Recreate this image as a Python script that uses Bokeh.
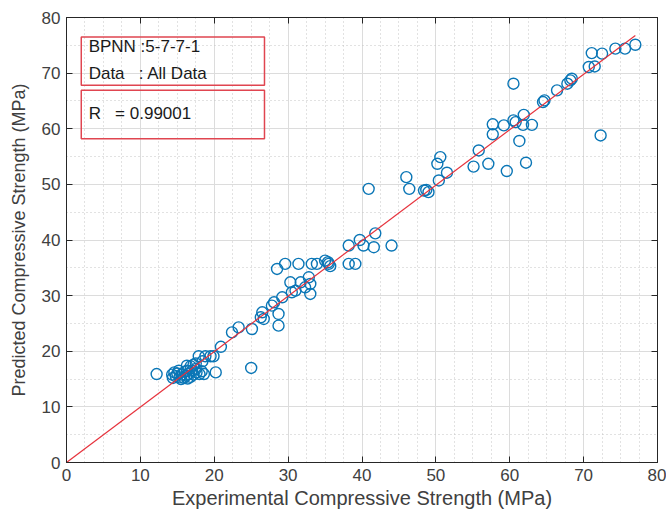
from bokeh.plotting import figure
from bokeh.models import LinearAxis, FixedTicker, BoxAnnotation, Label
from bokeh.embed import file_html
from bokeh.resources import INLINE

# ---- data ----
actual = [
    12.2, 14.3, 14.4, 14.6, 14.8, 15.0, 15.3, 15.5, 15.6, 15.9, 16.0, 16.2, 16.4, 16.5,
    16.8, 17.0, 17.2, 17.6, 18.0, 18.3, 15.2, 16.3, 16.8, 17.5, 18.6, 20.2, 25.0,
    17.9, 18.8, 19.5, 19.9, 18.4, 17.5, 16.3, 17.2, 20.9,
    22.4, 23.3, 25.1, 26.3, 26.5, 26.7, 27.8, 28.1, 28.7, 28.7, 29.2, 30.5, 31.0,
    30.3, 31.7, 32.3, 32.8, 33.0, 33.0,
    28.5, 29.6, 31.4, 33.2, 33.9, 35.0, 35.5, 35.7, 35.4, 38.2, 39.1,
    38.2, 39.7, 40.2, 41.6, 41.8, 44.0, 40.9,
    46.0, 46.4, 48.4, 48.7, 49.0, 50.2, 50.4, 50.6, 51.5,
    55.1, 55.8, 57.1, 59.6, 62.2, 61.3, 57.7, 57.7, 59.2, 60.5, 60.8, 61.9, 61.8, 63.0,
    64.5, 64.7, 66.4, 67.8, 68.4, 68.2, 70.7, 71.5, 71.1, 72.5, 74.3, 75.6, 77.0,
    60.5, 72.3,
]
predicted = [
    15.9, 15.8, 15.2, 16.2, 15.5, 16.0, 15.3, 15.0, 15.8, 15.2, 16.3, 15.6, 15.1, 15.9,
    15.4, 16.5, 15.8, 16.2, 15.9, 16.4, 16.5, 16.5, 17.3, 16.8, 15.9, 16.2, 17.0,
    19.1, 19.1, 19.1, 19.1, 18.2, 17.8, 17.4, 17.6, 20.8,
    23.4, 24.3, 24.0, 26.1, 27.0, 25.8, 28.2, 28.8, 26.7, 24.6, 29.7, 30.6, 30.9,
    32.4, 32.4, 31.5, 33.3, 32.1, 30.3,
    34.8, 35.7, 35.7, 35.7, 35.7, 36.3, 35.7, 35.3, 36.0, 35.7, 35.7,
    39.0, 40.0, 39.0, 38.7, 41.2, 39.0, 49.2,
    51.3, 49.2, 48.9, 49.0, 48.6, 53.7, 50.7, 54.9, 52.1,
    53.2, 56.1, 53.7, 52.4, 53.9, 57.8, 60.8, 59.0, 60.6, 61.5, 61.2, 62.5, 60.7, 60.7,
    64.8, 65.1, 66.9, 68.1, 69.0, 68.7, 71.1, 71.2, 73.6, 73.5, 74.4, 74.4, 75.1,
    68.1, 58.8,
]
fit_slope = 0.997
fit_intercept = 0.0
x_ticks = [0, 10, 20, 30, 40, 50, 60, 70, 80]
y_ticks = [0, 10, 20, 30, 40, 50, 60, 70, 80]
x_minor = [v * 2.5 for v in range(33)]
y_minor = [v * 5 for v in range(17)]
info_lines = ["BPNN :5-7-7-1", "Data\u00a0\u00a0\u00a0: All Data", "R\u00a0\u00a0\u00a0= 0.99001"]

fit_x = [0, max(actual)]
fit_y = [fit_intercept + fit_slope * v for v in fit_x]

FONT = "Liberation Sans"
TXT = "#404040"

p = figure(width=666, height=517, x_range=(0, 80), y_range=(0, 80),
           output_backend="svg", toolbar_location=None,
           min_border_left=66, min_border_right=9, min_border_top=17, min_border_bottom=55,
           background_fill_color="white", border_fill_color="white")
p.outline_line_color = "#262626"

xt = FixedTicker(ticks=x_ticks, minor_ticks=x_minor)
yt = FixedTicker(ticks=y_ticks, minor_ticks=y_minor)
p.xaxis.ticker = xt
p.yaxis.ticker = yt

for g in (p.xgrid, p.ygrid):
    g.grid_line_color = "#dcdcdc"
    g.grid_line_width = 1
    g.minor_grid_line_color = "#c4c4c4"
    g.minor_grid_line_dash = "1 3"
    g.minor_grid_line_width = 1
p.xgrid.ticker = xt
p.ygrid.ticker = yt

for ax in (p.xaxis[0], p.yaxis[0]):
    ax.major_tick_in = 6
    ax.major_tick_out = 0
    ax.minor_tick_in = 0
    ax.minor_tick_out = 0
    ax.axis_line_color = "#262626"
    ax.major_tick_line_color = "#262626"
    ax.major_label_text_font = FONT
    ax.major_label_text_font_size = "17px"
    ax.major_label_text_color = TXT
    ax.axis_label_text_font = FONT
    ax.axis_label_text_font_style = "normal"
    ax.axis_label_text_color = TXT

p.xaxis.axis_label = "Experimental Compressive Strength (MPa)"
p.xaxis.axis_label_text_font_size = "20px"
p.xaxis.major_label_standoff = 6
p.xaxis.axis_label_standoff = 3
p.yaxis.axis_label = "Predicted Compressive Strength (MPa)"
p.yaxis.axis_label_text_font_size = "18px"
p.yaxis.major_label_standoff = 6
p.yaxis.axis_label_standoff = 10

for loc, tk in (("above", xt), ("right", yt)):
    a = LinearAxis(ticker=tk, major_tick_in=6, major_tick_out=0, minor_tick_in=0,
                   minor_tick_out=0, major_label_text_font_size="0px",
                   major_label_text_color=None, major_label_standoff=0,
                   axis_line_color="#262626", major_tick_line_color="#262626")
    p.add_layout(a, loc)

p.scatter(actual, predicted, marker="circle", size=11, fill_color=None,
          line_color="#0a76b6", line_width=1.4)
p.line(fit_x, fit_y, line_color="#e6323c", line_width=1.2)

box_color = "#e04550"
p.add_layout(BoxAnnotation(left=2.0, right=26.8, bottom=67.8, top=76.5,
                           fill_color=None, fill_alpha=0, line_color=box_color,
                           line_width=1.5, line_alpha=1))
p.add_layout(BoxAnnotation(left=2.0, right=26.8, bottom=58.2, top=66.9,
                           fill_color=None, fill_alpha=0, line_color=box_color,
                           line_width=1.5, line_alpha=1))
for txt, yy in zip(info_lines, [74.7, 69.9, 62.7]):
    p.add_layout(Label(x=3.0, y=yy, text=txt, text_font=FONT, text_font_size="17px",
                       text_color="#1a1a1a", text_baseline="alphabetic"))

open("out.html", "w").write(file_html(p, INLINE))
